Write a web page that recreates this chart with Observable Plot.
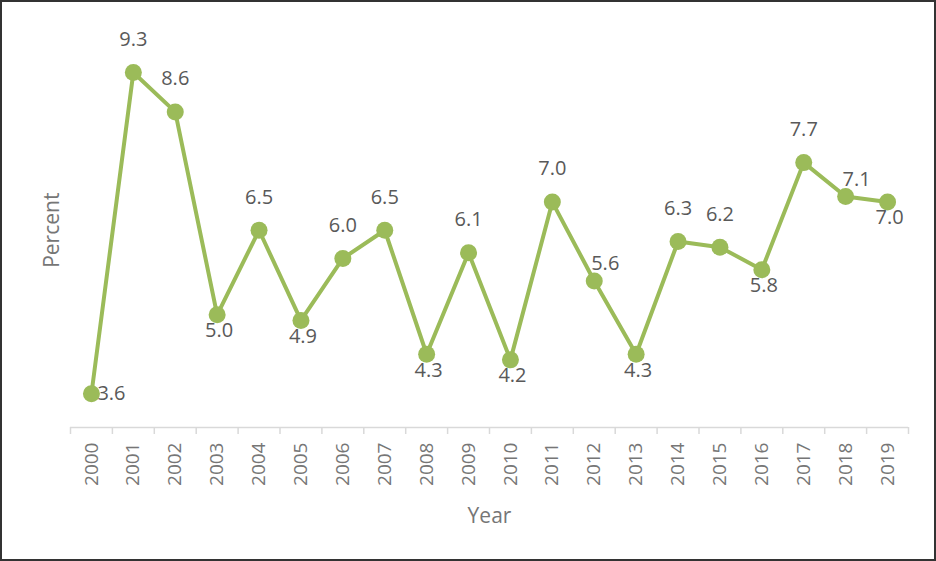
<!DOCTYPE html>
<html><head><meta charset="utf-8">
<script src="https://cdn.jsdelivr.net/npm/d3@7"></script>
<script src="https://cdn.jsdelivr.net/npm/@observablehq/plot@0.6"></script>
<style>
body{margin:0;background:#fff;}
#frame{width:932px;height:557px;border:2px solid #333;overflow:hidden;background:#fff;}
#frame svg{display:block;}
</style></head><body><div id="frame"></div>
<script>
const years = [2000, 2001, 2002, 2003, 2004, 2005, 2006, 2007, 2008, 2009, 2010, 2011, 2012, 2013, 2014, 2015, 2016, 2017, 2018, 2019];
const values = [3.6, 9.3, 8.6, 5.0, 6.5, 4.9, 6.0, 6.5, 4.3, 6.1, 4.2, 7.0, 5.6, 4.3, 6.3, 6.2, 5.8, 7.7, 7.1, 7.0];
const labelPlacement = ["right", "above", "above", "below", "above", "below", "above", "above", "below", "above",
  "below", "above", "aboveRight", "below", "above", "above", "below", "above", "aboveRight", "below"];
const yDomain = [3, 10];
const xTitle = "Year";
const yTitle = "Percent";

const data = years.map((year, i) => ({year, value: values[i], place: labelPlacement[i]}));
const offsets = {
  above: {dx: 0, dy: -33},
  below: {dx: 2, dy: 16},
  right: {dx: 20, dy: 0},
  aboveRight: {dx: 11, dy: -17}
};
const font = "'Open Sans', sans-serif";
const green = "#9BBB59";

const labelMarks = Object.entries(offsets).map(([place, o]) =>
  Plot.text(data.filter(d => d.place === place), {
    x: "year", y: "value", text: d => d.value.toFixed(1),
    dx: o.dx, dy: o.dy, fill: "#595959", fontSize: 20, lineAnchor: "middle"
  })
);

const chart = Plot.plot({
  width: 932, height: 557,
  marginLeft: 68, marginRight: 26, marginTop: 30.5, marginBottom: 132,
  style: {fontFamily: font, background: "#fff"},
  x: {domain: [years[0] - 0.5, years[years.length - 1] + 0.5]},
  y: {domain: yDomain, axis: null},
  marks: [
    Plot.ruleY([yDomain[0]], {stroke: "#d9d9d9", strokeWidth: 1.5}),
    Plot.axisX(d3.range(years[0] - 0.5, years[years.length - 1] + 1, 1), {
      tickSize: 7, tickFormat: () => "", stroke: "#d9d9d9", strokeOpacity: 1, strokeWidth: 1.5, label: null
    }),
    Plot.axisX(years, {
      tickSize: 0, tickPadding: 15, tickRotate: -90, tickFormat: d => String(d),
      fontSize: 19, fill: "#767676", label: null
    }),
    Plot.line(data, {x: "year", y: "value", stroke: green, strokeWidth: 4}),
    Plot.dot(data, {x: "year", y: "value", r: 8.5, fill: green}),
    ...labelMarks,
    Plot.text([xTitle], {frameAnchor: "bottom", dy: 89, fontSize: 21, fill: "#767676", lineAnchor: "middle"}),
    Plot.text([yTitle], {frameAnchor: "left", dx: -18, rotate: -90, textAnchor: "middle", fontSize: 21, fill: "#767676", lineAnchor: "middle"})
  ]
});
document.getElementById("frame").appendChild(chart);
</script></body></html>
